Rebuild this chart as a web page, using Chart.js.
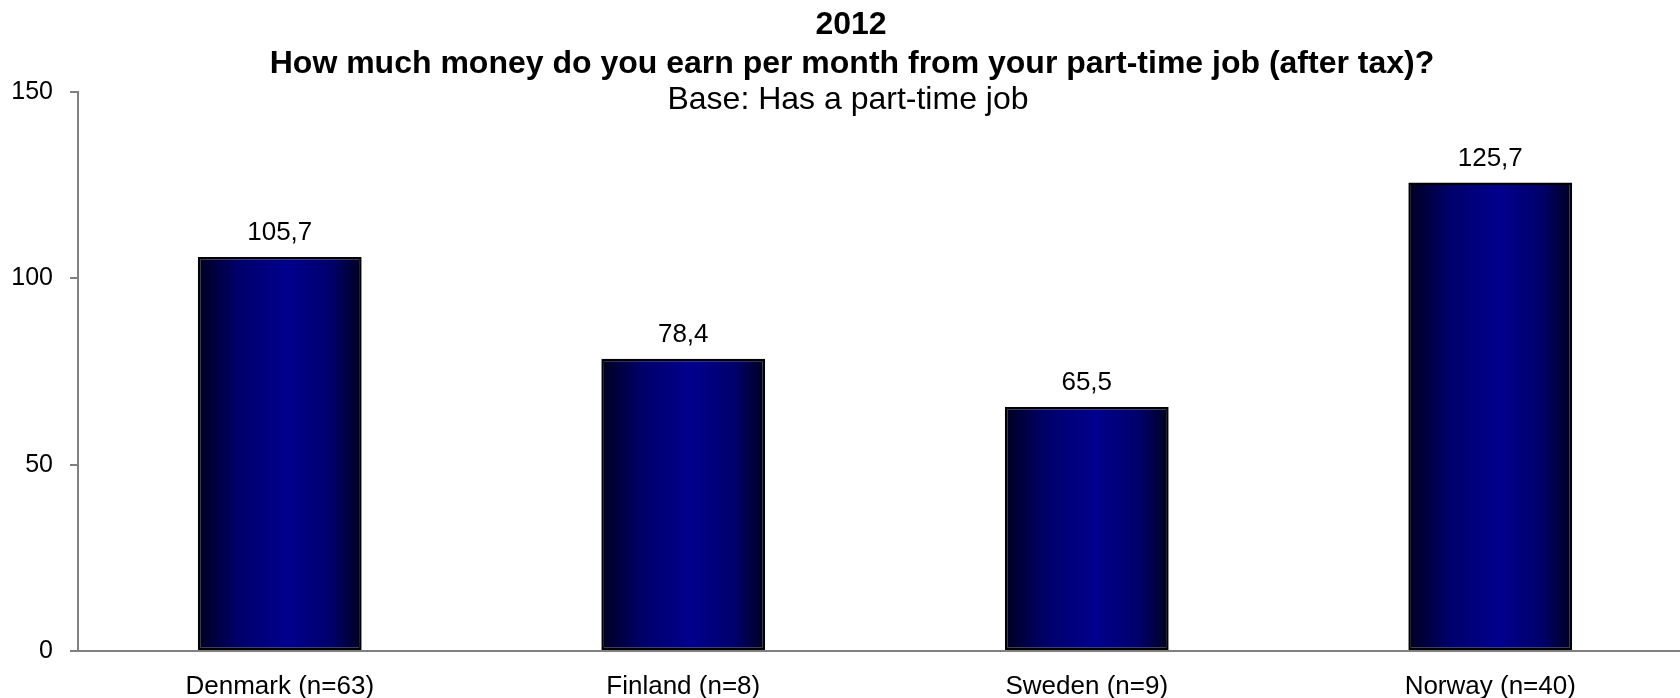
<!DOCTYPE html>
<html>
<head>
<meta charset="utf-8">
<script src="https://cdn.jsdelivr.net/npm/chart.js@4/dist/chart.umd.min.js"></script>
<style>
  html, body { margin: 0; padding: 0; background: #fff; overflow: hidden; }
  #wrap { position: relative; width: 1692px; height: 698px; }
</style>
</head>
<body>
<div id="wrap"><canvas id="earnChart"></canvas></div>
<script>
const countries = ['Denmark (n=63)', 'Finland (n=8)', 'Sweden (n=9)', 'Norway (n=40)'];
const earnings = [105.7, 78.4, 65.5, 125.7];
const yTicks = [0, 50, 100, 150];
const titleLines = ['2012', 'How much money do you earn per month from your part-time job (after tax)?', 'Base: Has a part-time job'];

const FONT = '"Liberation Sans", Arial, sans-serif';
const BAR_PCT = 0.406;

// horizontal navy gradient per bar, brightest a little right of centre
function barFill(c) {
  const chart = c.chart;
  const xs = chart.scales && chart.scales.x;
  if (!xs || c.dataIndex === undefined) return '#000080';
  const cx = xs.getPixelForValue(c.dataIndex);
  const w = xs.width / countries.length * BAR_PCT;
  if (!isFinite(cx) || !isFinite(w) || w <= 0) return '#000080';
  const g = chart.ctx.createLinearGradient(cx - w / 2, 0, cx + w / 2, 0);
  g.addColorStop(0, '#000020');
  g.addColorStop(0.25, '#00006a');
  g.addColorStop(0.55, '#00008e');
  g.addColorStop(0.82, '#00006a');
  g.addColorStop(1, '#000020');
  return g;
}

// header text, drawn over the top of the plot
const headerPlugin = {
  id: 'header',
  afterDraw(chart) {
    const ctx = chart.ctx;
    ctx.save();
    ctx.fillStyle = '#000';
    ctx.textAlign = 'center';
    ctx.textBaseline = 'alphabetic';
    ctx.font = 'bold 32px ' + FONT;
    ctx.fillText(titleLines[0], 851, 34);
    ctx.fillText(titleLines[1], 852, 73);
    ctx.font = '32px ' + FONT;
    ctx.fillText(titleLines[2], 848, 109);
    ctx.restore();
  }
};

// value above each bar, with decimal comma
const valueLabels = {
  id: 'valueLabels',
  afterDatasetsDraw(chart) {
    const ctx = chart.ctx;
    const meta = chart.getDatasetMeta(0);
    ctx.save();
    ctx.fillStyle = '#000';
    ctx.font = '26px ' + FONT;
    ctx.textAlign = 'center';
    ctx.textBaseline = 'alphabetic';
    meta.data.forEach((bar, i) => {
      ctx.fillText(earnings[i].toFixed(1).replace('.', ','), bar.x, bar.y - 17);
    });
    ctx.restore();
  }
};

new Chart(document.getElementById('earnChart'), {
  type: 'bar',
  data: {
    labels: countries,
    datasets: [{
      data: earnings,
      backgroundColor: barFill,
      borderColor: '#000',
      borderWidth: 2.5,
      borderSkipped: false,
      barPercentage: BAR_PCT,
      categoryPercentage: 1
    }]
  },
  options: {
    responsive: true,
    maintainAspectRatio: false,
    animation: false,
    layout: { padding: { top: 92, right: 0, left: 0, bottom: 0 } },
    plugins: {
      legend: { display: false },
      tooltip: { enabled: false }
    },
    scales: {
      x: {
        grid: { display: false },
        border: { display: true, color: '#808080', width: 2 },
        ticks: { color: '#000', font: { family: FONT, size: 26 }, padding: 12, maxRotation: 0 },
        afterFit(s) { s.height = 47; }
      },
      y: {
        min: 0,
        max: 150,
        afterBuildTicks(s) { s.ticks = yTicks.map(v => ({ value: v })); },
        grid: { drawOnChartArea: false, drawTicks: true, tickLength: 8, color: '#808080', lineWidth: 2 },
        border: { display: true, color: '#808080', width: 2 },
        ticks: { color: '#000', font: { family: FONT, size: 25 }, padding: 17 },
        afterFit(s) { s.width = 78; }
      }
    }
  },
  plugins: [headerPlugin, valueLabels]
});
</script>
</body>
</html>
